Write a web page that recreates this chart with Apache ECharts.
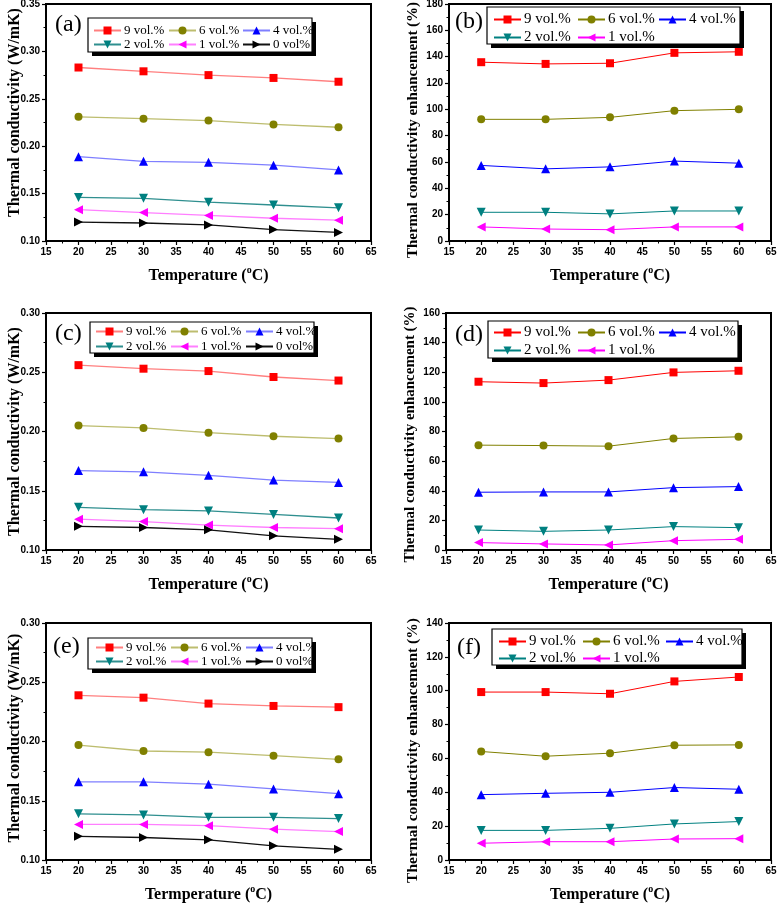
<!DOCTYPE html>
<html><head><meta charset="utf-8">
<script src="https://cdn.jsdelivr.net/npm/echarts@6/dist/echarts.min.js"></script>
<style>
html,body{margin:0;padding:0;background:#fff;}
#wrap{position:relative;width:778px;height:903px;overflow:hidden;}
.p{position:absolute;left:0;top:0;width:778px;height:903px;}
</style></head>
<body><div id="wrap"></div>
<script>
// ---------------- data ----------------
const TEMPS = [20, 30, 40, 50, 60];
const NAMES = ['9 vol.%', '6 vol.%', '4 vol.%', '2 vol.%', '1 vol.%', '0 vol%'];
const X_AXIS = [15, 65, 5];          // min, max, interval
const Y_AXIS_A = [0.10, 0.35, 0.05];
const Y_AXIS_B = [0, 180, 20];
const Y_AXIS_C = [0.10, 0.30, 0.05];
const Y_AXIS_D = [0, 160, 20];
const Y_AXIS_E = [0.10, 0.30, 0.05];
const Y_AXIS_F = [0, 140, 20];

// (a) thermal conductivity (W/mK)
const A_9 = [0.283, 0.279, 0.275, 0.272, 0.268];
const A_6 = [0.231, 0.229, 0.227, 0.223, 0.220];
const A_4 = [0.189, 0.184, 0.183, 0.180, 0.175];
const A_2 = [0.146, 0.145, 0.141, 0.138, 0.135];
const A_1 = [0.133, 0.130, 0.127, 0.124, 0.122];
const A_0 = [0.120, 0.119, 0.117, 0.112, 0.109];
// (b) enhancement (%)
const B_9 = [135.8, 134.5, 135.0, 142.9, 143.7];
const B_6 = [92.4, 92.4, 93.9, 99.0, 100.0];
const B_4 = [57.4, 54.8, 56.3, 60.7, 59.1];
const B_2 = [21.8, 21.8, 20.6, 22.8, 22.8];
const B_1 = [10.7, 9.1, 8.6, 10.7, 10.7];
// (c)
const C_9 = [0.256, 0.253, 0.251, 0.246, 0.243];
const C_6 = [0.205, 0.203, 0.199, 0.196, 0.194];
const C_4 = [0.167, 0.166, 0.163, 0.159, 0.157];
const C_2 = [0.136, 0.134, 0.133, 0.130, 0.127];
const C_1 = [0.126, 0.124, 0.121, 0.119, 0.118];
const C_0 = [0.120, 0.119, 0.117, 0.112, 0.109];
// (d)
const D_9 = [113.6, 112.7, 114.7, 119.9, 121.0];
const D_6 = [70.8, 70.5, 70.1, 75.3, 76.4];
const D_4 = [39.0, 39.2, 39.2, 42.1, 42.8];
const D_2 = [13.5, 12.6, 13.5, 15.8, 15.1];
const D_1 = [5.0, 4.1, 3.4, 6.3, 7.2];
// (e)
const E_9 = [0.239, 0.237, 0.232, 0.230, 0.229];
const E_6 = [0.197, 0.192, 0.191, 0.188, 0.185];
const E_4 = [0.166, 0.166, 0.164, 0.160, 0.156];
const E_2 = [0.139, 0.138, 0.136, 0.136, 0.135];
const E_1 = [0.130, 0.130, 0.129, 0.126, 0.124];
const E_0 = [0.120, 0.119, 0.117, 0.112, 0.109];
// (f)
const F_9 = [99.2, 99.2, 98.2, 105.5, 108.1];
const F_6 = [64.1, 61.3, 63.1, 67.8, 68.0];
const F_4 = [38.6, 39.4, 40.0, 42.8, 41.8];
const F_2 = [17.5, 17.5, 18.7, 21.3, 22.7];
const F_1 = [9.9, 10.8, 10.8, 12.4, 12.6];

const Y_NAME_K = 'Thermal conductivity (W/mK)';
const Y_NAME_E = 'Thermal conductivity enhancement (%)';

// ---------------- styles ----------------
const SERIF = '"Liberation Serif", "Times New Roman", serif';
const SANS = '"Liberation Sans", Arial, sans-serif';
const MARK_COLORS = ['#ff0000', '#808000', '#0000ff', '#008080', '#ff00ff', '#000000'];
const LIGHT_LINES = ['#ff7f7f', '#bdbd6f', '#7f7fff', '#2f8f8f', '#ff7fff', '#111111'];
const SYMBOLS = ['rect', 'circle', 'triangle',
  'path://M0,0 L10,0 L5,9 Z', 'path://M0,5 L9,0 L9,10 Z', 'path://M0,0 L9,5 L0,10 Z'];
const SYMBOL_SIZES = [8, 8, 9, 9, 9, 9];

const PANELS = [
  { label: '(a)', series: [A_9, A_6, A_4, A_2, A_1, A_0], y: Y_AXIS_A, kind: 'k', yName: Y_NAME_K, xWord: 'Temperature',
    grid: [46, 4, 325, 237], labelPos: [55, 25], box: [88, 18, 224, 34], cols: [93, 168, 242], legendTop: 24, gap: 1, font: 13, light: true, yGap: 23, yFont: 16, yPad: [0, 0, 0, 20] },
  { label: '(b)', series: [B_9, B_6, B_4, B_2, B_1], y: Y_AXIS_B, kind: 'e', yName: Y_NAME_E, xWord: 'Temperature',
    grid: [449, 4, 322, 237], labelPos: [455, 22], box: [487, 7, 253, 37], cols: [493, 577, 658], legendTop: 12, gap: 3, font: 15, light: false, yGap: 28, yFont: 15, yPad: [0, 15, 0, 0] },
  { label: '(c)', series: [C_9, C_6, C_4, C_2, C_1, C_0], y: Y_AXIS_C, kind: 'k', yName: Y_NAME_K, xWord: 'Temperature',
    grid: [46, 313, 325, 237], labelPos: [55, 334], box: [90, 322, 224, 31], cols: [95, 170, 245], legendTop: 325, gap: 2, font: 13, light: true, yGap: 23, yFont: 16, yPad: [0, 0, 0, 0] },
  { label: '(d)', series: [D_9, D_6, D_4, D_2, D_1], y: Y_AXIS_D, kind: 'e', yName: Y_NAME_E, xWord: 'Temperature',
    grid: [446, 313, 325, 237], labelPos: [455, 335], box: [488, 321, 250, 37], cols: [493, 577, 658], legendTop: 325, gap: 3, font: 15, light: false, yGap: 28, yFont: 15, yPad: [0, 6, 0, 0] },
  { label: '(e)', series: [E_9, E_6, E_4, E_2, E_1, E_0], y: Y_AXIS_E, kind: 'k', yName: Y_NAME_K, xWord: 'Termperature',
    grid: [46, 623, 325, 237], labelPos: [53, 647], box: [88, 638, 224, 31], cols: [95, 170, 245], legendTop: 641, gap: 1, font: 13, light: true, yGap: 23, yFont: 16, yPad: [0, 0, 0, 7] },
  { label: '(f)', series: [F_9, F_6, F_4, F_2, F_1], y: Y_AXIS_F, kind: 'e', yName: Y_NAME_E, xWord: 'Temperature',
    grid: [449, 623, 322, 237], labelPos: [457, 648], box: [492, 629, 250, 36], cols: [498, 582, 665], legendTop: 634, gap: 2, font: 15, light: false, yGap: 28, yFont: 15.5, yPad: [0, 18, 0, 0] }
];

function makeOption(p) {
  const axisLine = { show: true, onZero: false, lineStyle: { color: '#000', width: 2 } };
  const axisTick = { show: true, inside: false, length: 4, lineStyle: { color: '#000', width: 1.2 } };
  const minorTick = { show: true, splitNumber: 2, length: 2.5, lineStyle: { color: '#000', width: 1 } };
  const axisLabel = { fontFamily: SANS, fontWeight: 'bold', fontSize: 10, color: '#000', margin: 6 };
  const nameStyle = { fontFamily: SERIF, fontWeight: 'bold', fontSize: 16, color: '#000' };

  const series = p.series.map((arr, i) => ({
    type: 'line',
    name: NAMES[i],
    data: TEMPS.map((t, j) => [t, arr[j]]),
    symbol: SYMBOLS[i],
    symbolSize: SYMBOL_SIZES[i],
    showSymbol: true,
    lineStyle: { color: p.light ? LIGHT_LINES[i] : MARK_COLORS[i], width: p.light ? 1.3 : 1 },
    itemStyle: { color: MARK_COLORS[i] },
    emphasis: { disabled: true },
    animation: false,
    z: 2
  }));

  const colGroups = [[0, 3], [1, 4], [2, 5]];
  const legend = colGroups.map((g, ci) => ({
    orient: 'vertical',
    left: p.cols[ci],
    top: p.legendTop,
    itemGap: p.gap,
    itemWidth: 27,
    itemHeight: 10,
    padding: 0,
    selectedMode: false,
    data: g.filter(i => i < p.series.length).map(i => NAMES[i]),
    textStyle: { fontFamily: SERIF, fontSize: p.font, color: '#000', padding: [0, 0, 0, -2] },
    z: 10
  }));

  const [bx, by, bw, bh] = p.box;
  return {
    animation: false,
    grid: { left: p.grid[0], top: p.grid[1], width: p.grid[2], height: p.grid[3],
            outerBoundsMode: 'none', containLabel: false,
            show: true, borderColor: '#000', borderWidth: 2, backgroundColor: 'transparent' },
    xAxis: {
      type: 'value', min: X_AXIS[0], max: X_AXIS[1], interval: X_AXIS[2],
      axisLine, axisTick, minorTick, axisLabel, splitLine: { show: false },
      name: '{t|' + p.xWord + ' (}{s|o}{t|C)}',
      nameLocation: 'middle', nameGap: 24, nameMoveOverlap: false,
      nameTextStyle: { rich: {
        t: Object.assign({}, nameStyle, { lineHeight: 22 }),
        s: { fontFamily: SERIF, fontWeight: 'bold', fontSize: 10, color: '#000', verticalAlign: 'top', lineHeight: 10 }
      } }
    },
    yAxis: {
      type: 'value', min: p.y[0], max: p.y[1], interval: p.y[2],
      axisLine, axisTick, minorTick, splitLine: { show: false },
      axisLabel: Object.assign({}, axisLabel, {
        formatter: p.kind === 'k' ? (v) => v.toFixed(2) : (v) => String(Math.round(v))
      }),
      name: p.yName, nameLocation: 'middle', nameGap: p.yGap, nameRotate: 90, nameMoveOverlap: false,
      nameTextStyle: Object.assign({}, nameStyle, { fontSize: p.yFont, padding: p.yPad })
    },
    legend,
    graphic: [
      { type: 'rect', silent: true, z: 5, shape: { x: bx + 4, y: by + 4, width: bw, height: bh }, style: { fill: '#000' } },
      { type: 'rect', silent: true, z: 6, shape: { x: bx, y: by, width: bw, height: bh }, style: { fill: '#fff', stroke: '#000', lineWidth: 1.2 } },
      { type: 'text', silent: true, z: 7, x: p.labelPos[0], y: p.labelPos[1],
        style: { text: p.label, font: '24px ' + SERIF, fill: '#000', align: 'left', verticalAlign: 'middle', textVerticalAlign: 'middle' } }
    ],
    series
  };
}

const wrap = document.getElementById('wrap');
PANELS.forEach((p, k) => {
  const d = document.createElement('div');
  d.className = 'p';
  d.style.zIndex = String(k + 1);
  wrap.appendChild(d);
  const chart = echarts.init(d, null, { renderer: 'canvas', width: 778, height: 903 });
  chart.setOption(makeOption(p));
});
</script>
</body></html>
